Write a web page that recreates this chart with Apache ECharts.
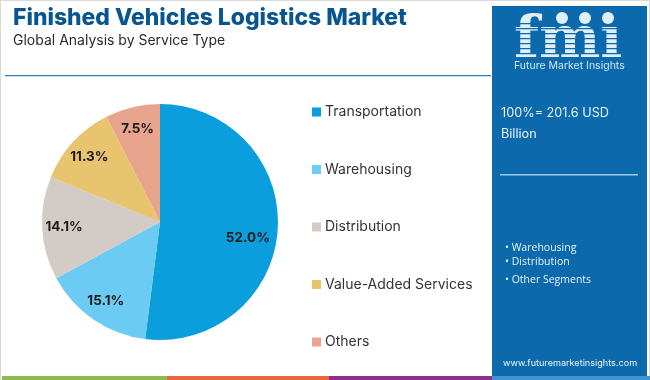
<!DOCTYPE html>
<html><head><meta charset="utf-8">
<style>html,body{margin:0;padding:0;background:#fff}#c{width:650px;height:380px}</style>
<script src="https://cdn.jsdelivr.net/npm/echarts@6/dist/echarts.min.js"></script>
</head><body><div id="c"></div>
<script>
const categories = ["Transportation","Warehousing","Distribution","Value-Added Services","Others"];
const values = [52.0,15.1,14.1,11.3,7.5];
const colors = ["#0a9fdc","#6ccbf2","#d2cbc6","#e9c46f","#e9a48e"];
const titleText = "Finished Vehicles Logistics Market";
const subtitleText = "Global Analysis by Service Type";
const panelTotal = "100%= 201.6 USD\nBillion";
const panelList = ["Warehousing","Distribution","Other Segments"];
const site = "www.futuremarketinsights.com";
const FONT = "Inter";
const PANEL = "#0b69ac";

const data = categories.map((n,i)=>({name:n,value:values[i],itemStyle:{color:colors[i]}}));
const stripes = [];
[23,28,33,38,43,48,53].forEach(y=>stripes.push({type:'rect',shape:{x:512,y:y,width:112,height:1.3},style:{fill:PANEL}}));

const chart = echarts.init(document.getElementById('c'),null,{renderer:'canvas'});
chart.setOption({
  animation:false,
  backgroundColor:'#fff',
  title:[
    {text:titleText,left:13,top:7,padding:0,textStyle:{fontFamily:FONT,fontWeight:800,fontSize:22.9,color:'#07568f'}},
    {text:subtitleText,left:13,top:34,padding:0,textStyle:{fontFamily:FONT,fontWeight:400,fontSize:14,color:'#2a2a2a'}}
  ],
  legend:{
    orient:'vertical',left:307,top:100,itemWidth:9,itemHeight:9,itemGap:43.5,
    icon:'rect',data:categories,
    textStyle:{fontFamily:FONT,fontSize:14,color:'#333',padding:[0,0,0,-1]},
    selectedMode:false
  },
  series:[
    {type:'pie',center:[160,222],radius:[0,118],startAngle:90,clockwise:true,silent:true,
     data:data,label:{show:false},labelLine:{show:false},itemStyle:{borderWidth:0}},
    {type:'pie',center:[160,222],radius:[68,118],startAngle:90,clockwise:true,silent:true,
     data:categories.map((n,i)=>({name:n,value:values[i],itemStyle:{color:'rgba(0,0,0,0)'},
        label:i===0?{offset:[-8,10]}:{}})),
     label:{show:true,position:'inside',formatter:p=>p.value.toFixed(1)+'%',
       fontFamily:FONT,fontWeight:700,fontSize:13.5,color:'#1c1c1c'},
     labelLine:{show:false}}
  ],
  graphic:[
    {type:'rect',shape:{x:0,y:0,width:650,height:1},style:{fill:'#d9d9d9'}},
    {type:'rect',shape:{x:0,y:0,width:1,height:380},style:{fill:'#d9d9d9'}},
    {type:'rect',shape:{x:649,y:0,width:1,height:380},style:{fill:'#d9d9d9'}},
    {type:'rect',shape:{x:5,y:75,width:486,height:1.2},style:{fill:'#2f7fb5'}},
    {type:'rect',shape:{x:2,y:376,width:165,height:4},style:{fill:'#8cba4b'}},
    {type:'rect',shape:{x:167,y:376,width:162,height:4},style:{fill:'#e8683c'}},
    {type:'rect',shape:{x:329,y:376,width:163,height:4},style:{fill:'#8f2f8c'}},
    {type:'rect',shape:{x:492,y:6,width:155,height:374},style:{fill:PANEL}},
    {type:'rect',shape:{x:492,y:376,width:158,height:4},style:{fill:'#3f93cf'}},
    {type:'text',x:514,y:13,style:{text:'fmi',fontFamily:'DejaVu Serif',fontWeight:'bold',fontSize:58,fill:'#dff0fb'}},
    ...stripes,
    {type:'rect',shape:{x:596,y:6,width:28,height:20},style:{fill:PANEL}},
    {type:'circle',shape:{cx:562,cy:18,r:6},style:{fill:'#dff0fb'}},
    {type:'circle',shape:{cx:585,cy:18,r:6},style:{fill:'#dff0fb'}},
    {type:'circle',shape:{cx:608,cy:18,r:6},style:{fill:'#dff0fb'}},
    {type:'text',x:514,y:60,style:{text:'Future Market Insights',fontFamily:FONT,fontSize:10.5,fill:'#cfe6f6'}},
    {type:'text',x:501,y:103,style:{text:panelTotal,fontFamily:FONT,fontSize:12.7,lineHeight:21,fill:'#e8f3fb'}},
    {type:'rect',shape:{x:500,y:174,width:138,height:1.5},style:{fill:'#9cc9e8'}},
    ...panelList.map((t,i)=>({type:'text',x:505,y:[243,257,275][i],
       style:{text:'\u2022 '+t,fontFamily:'Open Sans',fontSize:10.5,fill:'#e8f3fb'}})),
    {type:'text',x:503,y:359,style:{text:site,fontFamily:FONT,fontSize:9.1,fill:'#e8f3fb'}}
  ]
});
</script></body></html>
